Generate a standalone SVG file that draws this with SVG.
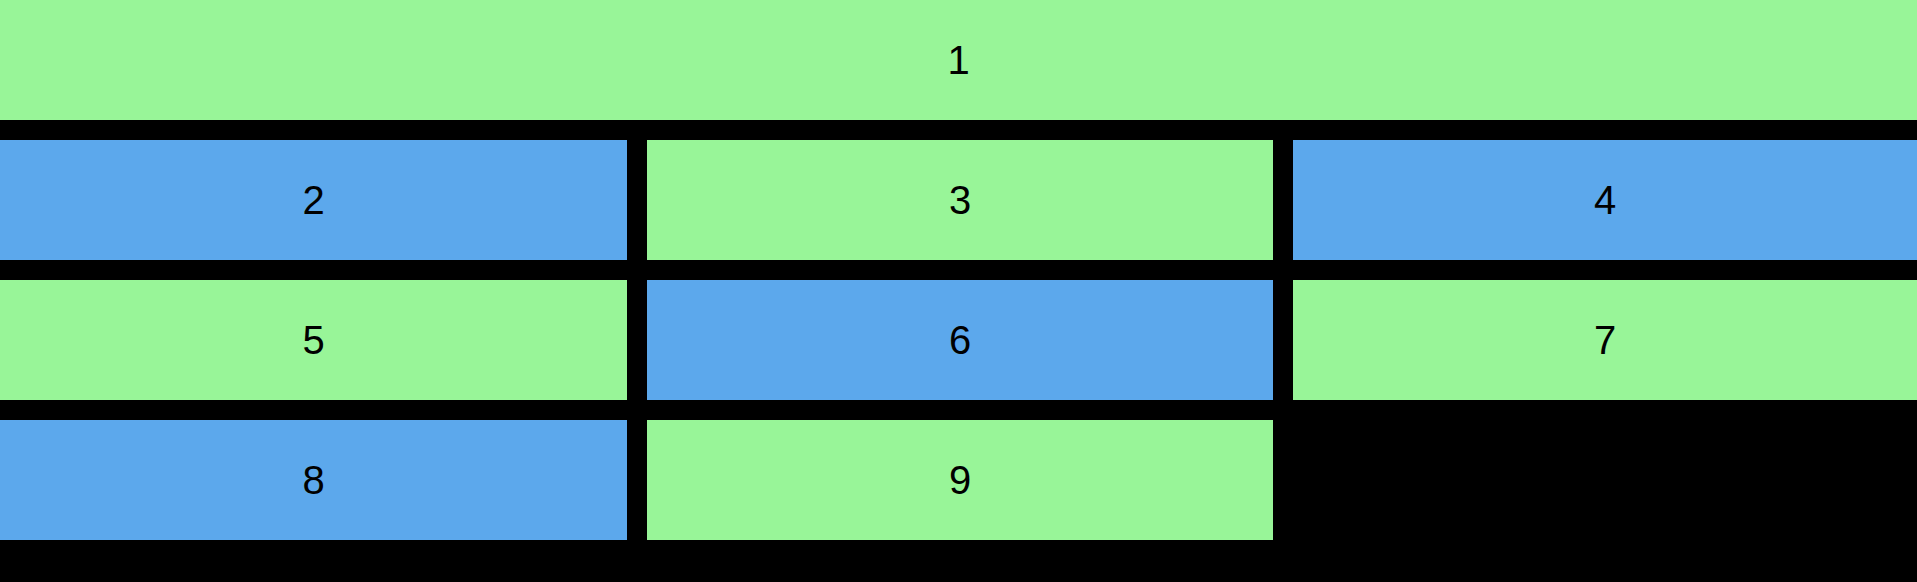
<svg xmlns="http://www.w3.org/2000/svg" width="1917" height="582" viewBox="0 0 1917 582">
<style>
.g{fill:#98f598}
.b{fill:#5ca8ec}
text{font-family:"Liberation Sans",Arial,sans-serif;font-size:40px;fill:#000;text-anchor:middle;dominant-baseline:central}
</style>
<rect width="1917" height="582" fill="#000"/>
<g id="n1"><rect class="g" x="0" y="0" width="1917" height="120"/><text x="958.5" y="60">1</text></g>
<g id="n2"><rect class="b" x="0" y="140" width="627" height="120"/><text x="313.5" y="200">2</text></g>
<g id="n3"><rect class="g" x="647" y="140" width="626" height="120"/><text x="960" y="200">3</text></g>
<g id="n4"><rect class="b" x="1293" y="140" width="624" height="120"/><text x="1605" y="200">4</text></g>
<g id="n5"><rect class="g" x="0" y="280" width="627" height="120"/><text x="313.5" y="340">5</text></g>
<g id="n6"><rect class="b" x="647" y="280" width="626" height="120"/><text x="960" y="340">6</text></g>
<g id="n7"><rect class="g" x="1293" y="280" width="624" height="120"/><text x="1605" y="340">7</text></g>
<g id="n8"><rect class="b" x="0" y="420" width="627" height="120"/><text x="313.5" y="480">8</text></g>
<g id="n9"><rect class="g" x="647" y="420" width="626" height="120"/><text x="960" y="480">9</text></g>
<g id="connectors"></g>
</svg>
